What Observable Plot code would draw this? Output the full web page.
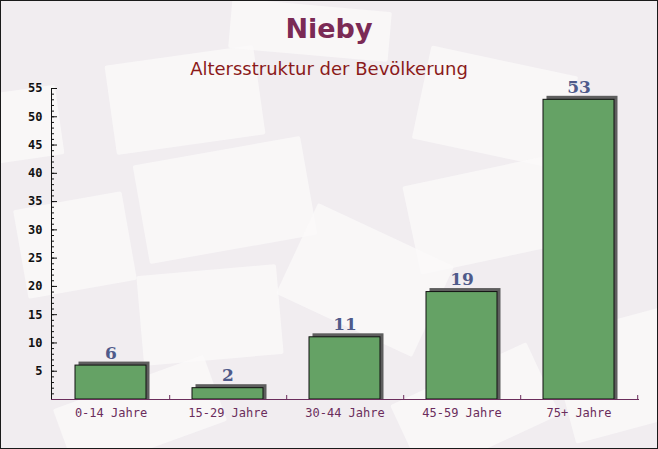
<!DOCTYPE html>
<html><head><meta charset="utf-8">
<script src="https://cdn.jsdelivr.net/npm/d3@7"></script>
<script src="https://cdn.jsdelivr.net/npm/@observablehq/plot@0.6"></script>
<style>
html,body{margin:0;padding:0;}
#wrap{position:relative;width:658px;height:449px;overflow:hidden;background:#f1edf0;}
.env{position:absolute;background:#fbf9f9;opacity:.75;border-radius:2px;}
#border{position:absolute;left:0;top:0;width:658px;height:449px;box-sizing:border-box;border:1px solid #1a1a1a;pointer-events:none;}
#title{position:absolute;left:0;width:658px;top:13px;text-align:center;font:bold 27px "DejaVu Sans",sans-serif;color:#7b2a55;}
#subtitle{position:absolute;left:0;width:658px;top:58px;text-align:center;font:18px "DejaVu Sans",sans-serif;color:#8b1a1a;}
#chart{position:absolute;left:0;top:0;}
</style></head>
<body>
<div id="wrap">
  <div class="env" style="left:110px;top:55px;width:150px;height:90px;transform:rotate(-8deg)"></div>
  <div class="env" style="left:140px;top:150px;width:170px;height:100px;transform:rotate(-10deg)"></div>
  <div class="env" style="left:420px;top:60px;width:150px;height:95px;transform:rotate(12deg)"></div>
  <div class="env" style="left:410px;top:170px;width:150px;height:90px;transform:rotate(-12deg)"></div>
  <div class="env" style="left:20px;top:200px;width:110px;height:90px;transform:rotate(-10deg)"></div>
  <div class="env" style="left:140px;top:270px;width:140px;height:90px;transform:rotate(-5deg)"></div>
  <div class="env" style="left:290px;top:230px;width:150px;height:100px;transform:rotate(25deg)"></div>
  <div class="env" style="left:560px;top:320px;width:120px;height:110px;transform:rotate(-15deg)"></div>
  <div class="env" style="left:-20px;top:90px;width:80px;height:70px;transform:rotate(-8deg)"></div>
  <div class="env" style="left:230px;top:5px;width:160px;height:50px;transform:rotate(5deg)"></div>
  <div class="env" style="left:60px;top:380px;width:160px;height:70px;transform:rotate(-20deg)"></div>
  <div class="env" style="left:400px;top:370px;width:150px;height:80px;transform:rotate(-25deg)"></div>
  <div id="chart"></div>
  <div id="title">Nieby</div>
  <div id="subtitle">Altersstruktur der Bevölkerung</div>
  <div id="border"></div>
</div>
<script>
const categories = ["0-14 Jahre", "15-29 Jahre", "30-44 Jahre", "45-59 Jahre", "75+ Jahre"];
const values = [6, 2, 11, 19, 53];
const majorTicks = [5, 10, 15, 20, 25, 30, 35, 40, 45, 50, 55];
const minorTicks = d3.range(1, 56);

const data = categories.map((c, i) => ({cat: c, val: values[i]}));

const W = 658, H = 449, mL = 51, mR = 20;
const step = (W - mL - mR) / categories.length;

const chart = Plot.plot({
  width: W, height: H,
  marginLeft: mL, marginRight: mR, marginTop: 88, marginBottom: 50,
  style: {background: "transparent", overflow: "visible"},
  x: {domain: categories, paddingInner: 0.39, paddingOuter: 0.195, label: null},
  y: {domain: [0, 55], label: null},
  marks: [
    // 3D shadow
    Plot.barY(data, {x: "cat", y: "val", fill: "#5e5e5e", dx: 3.5, dy: -3.5, insetBottom: -3.5}),
    Plot.barY(data, {x: "cat", y: "val", fill: "#65a265", stroke: "#111", strokeWidth: 1}),
    Plot.text(data, {x: "cat", y: "val", text: d => String(d.val), dy: -7, lineAnchor: "bottom",
      fill: "#4f5a8a", fontSize: 17, fontWeight: "bold", fontFamily: "DejaVu Serif, serif"}),
    // y axis (ticks pointing inward)
    Plot.axisY({ticks: minorTicks, tickSize: 3, dx: 3, text: null, stroke: "#111"}),
    Plot.axisY({ticks: majorTicks, tickSize: 6, dx: 6, text: null, stroke: "#111"}),
    Plot.axisY({ticks: majorTicks, tickSize: 0, tickPadding: 9, tickFormat: d => String(d),
      fill: "#111", fontSize: 12, fontWeight: "bold", fontFamily: "DejaVu Sans Mono, monospace"}),
    Plot.frame({anchor: "left", stroke: "#111"}),
    // x axis
    Plot.axisX({ticks: categories, tickSize: 0, tickPadding: 9, fill: "#6b2d5c",
      fontSize: 12, fontFamily: "DejaVu Sans Mono, monospace"}),
    Plot.axisX({ticks: categories, tickSize: 4, dy: -4, text: null, dx: step / 2, stroke: "#6b2d5c"}),
    Plot.frame({anchor: "bottom", stroke: "#6b2d5c"})
  ]
});
document.getElementById("chart").appendChild(chart);
</script>
</body></html>
